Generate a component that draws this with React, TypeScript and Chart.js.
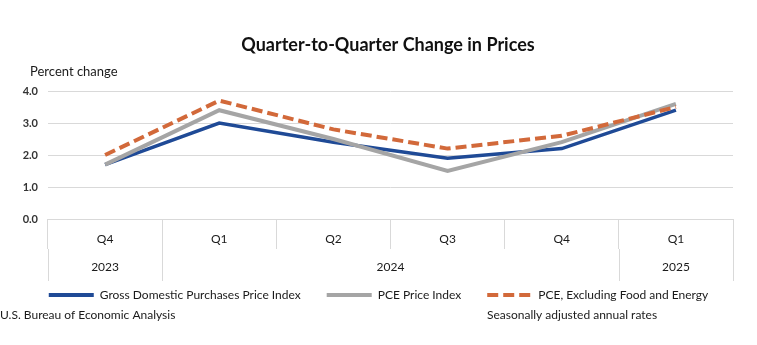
import React, { useEffect, useRef } from 'react';
import { Chart, registerables } from 'chart.js';

Chart.register(...registerables);

const quarters = ['Q4', 'Q1', 'Q2', 'Q3', 'Q4', 'Q1'];
const years = ['2023', '2024', '2025'];
const yearFirstIndex = [0, 1, 5];
const yearLastIndex = [0, 4, 5];
const gdpPurchases = [1.7, 3.0, 2.4, 1.9, 2.2, 3.4];
const pce = [1.7, 3.4, 2.5, 1.5, 2.4, 3.6];
const corePce = [2.0, 3.7, 2.8, 2.2, 2.6, 3.5];
const seriesNames = [
  'Gross Domestic Purchases Price Index',
  'PCE Price Index',
  'PCE, Excluding Food and Energy',
];
const titleText = 'Quarter-to-Quarter Change in Prices';
const yAxisText = 'Percent change';
const sourceText = 'U.S. Bureau of Economic Analysis';
const noteText = 'Seasonally adjusted annual rates';

const FONT = 'Lato';
const GRID = '#d9d9d9';
const TEXT = '#1a1a1a';

const textPlugin = {
  id: 'extraText',
  afterDraw(chart: any) {
    const ctx = chart.ctx;
    const xs = chart.scales.x;
    ctx.save();
    // title
    ctx.fillStyle = '#111111';
    ctx.textBaseline = 'middle';
    ctx.textAlign = 'center';
    ctx.font = `bold 18px ${FONT}`;
    ctx.fillText(titleText, 388, 45);
    // year row of the category axis
    const rowTop = xs.top + 30;
    const rowBottom = xs.top + 62;
    ctx.strokeStyle = GRID;
    ctx.lineWidth = 1;
    ctx.font = `12px ${FONT}`;
    ctx.fillStyle = TEXT;
    years.forEach((yr, i) => {
      const left = xs.getPixelForValue(yearFirstIndex[i] - 0.5);
      const right = xs.getPixelForValue(yearLastIndex[i] + 0.5);
      [left, right].forEach((px) => {
        const p = Math.round(px) + 0.5;
        ctx.beginPath();
        ctx.moveTo(p, rowTop);
        ctx.lineTo(p, rowBottom);
        ctx.stroke();
      });
      ctx.fillText(yr, (left + right) / 2, xs.top + 48);
    });
    // axis caption and footers
    ctx.textAlign = 'left';
    ctx.font = `13px ${FONT}`;
    ctx.fillText(yAxisText, 30, 72);
    ctx.font = `12px ${FONT}`;
    ctx.fillText(sourceText, 0, 315);
    ctx.fillText(noteText, 487, 315);
    ctx.restore();
  },
};

export default function App() {
  const ref = useRef<HTMLCanvasElement>(null);
  useEffect(() => {
    document.body.style.margin = '0';
    if (!ref.current) return;
    const chart = new Chart(ref.current, {
      type: 'line',
      data: {
        labels: quarters,
        datasets: [
          {
            label: seriesNames[0],
            data: gdpPurchases,
            borderColor: '#1f4a96',
            backgroundColor: '#1f4a96',
            borderWidth: 3.5,
            pointRadius: 0,
            tension: 0,
            order: 3,
          },
          {
            label: seriesNames[1],
            data: pce,
            borderColor: '#a5a5a5',
            backgroundColor: '#a5a5a5',
            borderWidth: 4,
            pointRadius: 0,
            tension: 0,
            order: 2,
          },
          {
            label: seriesNames[2],
            data: corePce,
            borderColor: '#d2693a',
            backgroundColor: '#d2693a',
            borderWidth: 4,
            borderDash: [11, 5],
            pointRadius: 0,
            tension: 0,
            order: 1,
          },
        ],
      },
      options: {
        responsive: false,
        animation: false,
        layout: { padding: { left: 0, right: 0, top: 91, bottom: 34 } },
        font: { family: FONT },
        scales: {
          x: {
            type: 'category',
            offset: true,
            grid: {
              offset: true,
              drawOnChartArea: false,
              drawTicks: true,
              tickLength: 30,
              color: GRID,
            },
            border: { display: false },
            ticks: {
              autoSkip: false,
              maxRotation: 0,
              padding: -17,
              color: TEXT,
              font: { family: FONT, size: 12 },
            },
            afterFit: (s: any) => {
              s.height = 44;
            },
          },
          y: {
            min: 0,
            max: 4,
            ticks: {
              stepSize: 1,
              padding: 10,
              color: '#333333',
              font: { family: FONT, size: 11, weight: 'bold' },
              callback: (v: any) => Number(v).toFixed(1),
            },
            grid: { color: GRID, drawTicks: false },
            border: { display: false },
            afterFit: (s: any) => {
              s.width = 48;
            },
          },
          yRight: {
            position: 'right',
            display: true,
            grid: { display: false, drawTicks: false },
            ticks: { display: false },
            border: { display: false },
            afterFit: (s: any) => {
              s.width = 24;
            },
          },
        },
        plugins: {
          title: { display: false },
          legend: {
            position: 'bottom',
            labels: {
              usePointStyle: true,
              pointStyle: 'line',
              pointStyleWidth: 45,
              padding: 26,
              color: TEXT,
              font: { family: FONT, size: 12 },
              sort: (a: any, b: any) => a.datasetIndex - b.datasetIndex,
              generateLabels: (c: any) =>
                (Chart.defaults.plugins.legend.labels as any)
                  .generateLabels(c)
                  .map((l: any) => {
                    const ds = c.data.datasets[l.datasetIndex];
                    return {
                      ...l,
                      pointStyle: 'line',
                      strokeStyle: ds.borderColor,
                      fillStyle: ds.borderColor,
                      lineWidth: 4,
                      lineDash: ds.borderDash || [],
                      lineDashOffset: 0,
                      lineCap: 'butt',
                    };
                  }),
            },
          },
          tooltip: { enabled: false },
        },
      },
      plugins: [textPlugin],
    } as any);
    return () => chart.destroy();
  }, []);
  return (
    <div style={{ width: 757, height: 345, background: '#fff' }}>
      <canvas ref={ref} width={757} height={345} />
    </div>
  );
}
